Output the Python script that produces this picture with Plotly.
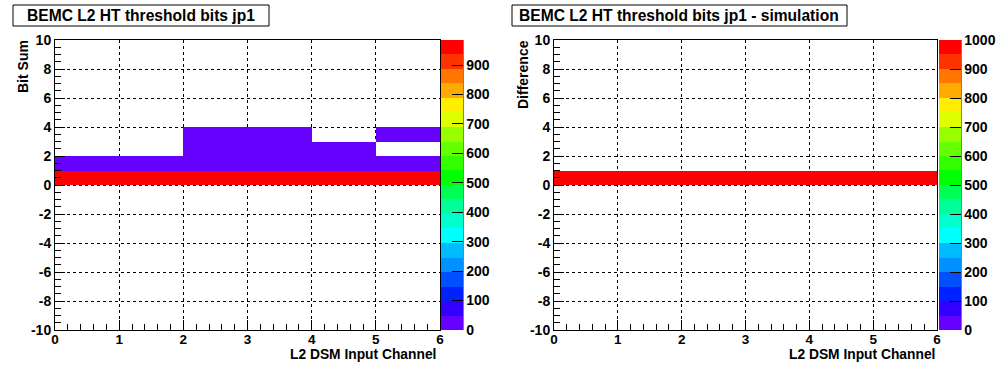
import plotly.graph_objects as go

W, H = 996, 372

# ---------------- data ----------------
x_centers = [0.5, 1.5, 2.5, 3.5, 4.5, 5.5]          # L2 DSM input channel bins
y_centers = [-9.5 + i for i in range(20)]           # bit-sum / difference bins

# left histogram: counts per (y bin, channel); 0 = empty
bitsum_0to1 = [985, 985, 985, 985, 985, 985]
bitsum_1to2 = [8, 8, 8, 8, 8, 8]
bitsum_2to3 = [0, 0, 8, 8, 8, 0]
bitsum_3to4 = [0, 0, 8, 8, 0, 8]
left_zmax = 985

# right histogram
diff_0to1 = [1000, 1000, 1000, 1000, 1000, 1000]
right_zmax = 1000

left_cbar_ticks = [0, 100, 200, 300, 400, 500, 600, 700, 800, 900]
right_cbar_ticks = [0, 100, 200, 300, 400, 500, 600, 700, 800, 900, 1000]
x_ticks = [0, 1, 2, 3, 4, 5, 6]
y_ticks = [-10, -8, -6, -4, -2, 0, 2, 4, 6, 8, 10]
y_tick_labels = ["-10", "-8", "-6", "-4", "-2", "0", "2", "4", "6", "8", "10"]

palette = ["#6600ff", "#3300ff", "#0022ff", "#0050ff", "#0090ff", "#00bbff",
           "#00ffff", "#00ffcc", "#00ff99", "#00ff55", "#00ff00", "#33ff00",
           "#66ff00", "#99ff00", "#ddff00", "#ffee00", "#ffaa00", "#ff7700",
           "#ff3300", "#ff0000"]


def px(x):
    return x / W


def py(y):
    return 1 - y / H


def build_z(rows):
    z = [[None] * 6 for _ in range(20)]
    for yc, vals in rows.items():
        i = y_centers.index(yc)
        z[i] = [v if v > 0 else None for v in vals]
    return z


def discrete_scale(colors):
    n = len(colors)
    cs = []
    for i, c in enumerate(colors):
        cs.append([i / n, c])
        cs.append([(i + 1) / n, c])
    return cs


z_left = build_z({0.5: bitsum_0to1, 1.5: bitsum_1to2, 2.5: bitsum_2to3, 3.5: bitsum_3to4})
z_right = build_z({0.5: diff_0to1})

FONT = "Liberation Sans, Arial, Helvetica, sans-serif"
tickfont = dict(family=FONT, size=14, color="black", weight="bold")
xtickfont = dict(family=FONT, size=13.5, color="black", weight="bold")

fig = go.Figure()

# plot geometry (pixels)
L = dict(x0=55, x1=440, cb0=441)
R = dict(x0=554, x1=937, cb0=939)
TOP, BOT = 40, 330
CBW = 22

for (z, zmax, ticks, geo, xa, ya) in [
    (z_left, left_zmax, left_cbar_ticks, L, "x", "y"),
    (z_right, right_zmax, right_cbar_ticks, R, "x2", "y2"),
]:
    fig.add_trace(go.Heatmap(
        x=x_centers, y=y_centers, z=z, xaxis=xa, yaxis=ya,
        zmin=0, zmax=zmax, colorscale=discrete_scale(palette),
        hoverongaps=False, xgap=0, ygap=0,
        colorbar=dict(
            x=px(geo["cb0"]), xanchor="left", xpad=0, ypad=0,
            y=py(BOT), yanchor="bottom", len=BOT - TOP, lenmode="pixels",
            thickness=CBW, thicknessmode="pixels", outlinewidth=0,
            tickmode="array", tickvals=ticks, ticktext=[str(t) for t in ticks],
            ticks="inside", ticklen=11, tickcolor="black", tickwidth=1,
            tickfont=tickfont,
        ),
    ))

axis_common = dict(showline=True, linecolor="black", linewidth=1, mirror=True,
                   ticks="inside", tickcolor="black", tickwidth=1, ticklen=10,
                   showgrid=True, gridcolor="black", gridwidth=1, griddash="dot",
                   zeroline=False, fixedrange=True)
xminor = dict(dtick=0.2, ticks="inside", ticklen=6, tickcolor="black", showgrid=False)
yminor = dict(dtick=0.5, ticks="inside", ticklen=6, tickcolor="black", showgrid=False)

fig.update_layout(
    width=W, height=H, margin=dict(l=0, r=0, t=0, b=0, autoexpand=False),
    paper_bgcolor="white", plot_bgcolor="white", showlegend=False,
    xaxis=dict(domain=[px(L["x0"]), px(L["x1"])], range=[0, 6], anchor="y",
               tickvals=x_ticks, ticklabelstandoff=-3, tickfont=xtickfont,
               minor=xminor, **axis_common),
    yaxis=dict(domain=[py(BOT), py(TOP)], range=[-10, 10], anchor="x",
               tickvals=y_ticks, ticktext=y_tick_labels, tickfont=tickfont,
               minor=yminor, **axis_common),
    xaxis2=dict(domain=[px(R["x0"]), px(R["x1"])], range=[0, 6], anchor="y2",
                tickvals=x_ticks, ticklabelstandoff=-3, tickfont=xtickfont,
                minor=xminor, **axis_common),
    yaxis2=dict(domain=[py(BOT), py(TOP)], range=[-10, 10], anchor="x2",
                tickvals=y_ticks, ticktext=y_tick_labels, tickfont=tickfont,
                minor=yminor, **axis_common),
)

shapes = []
# colorbar right-side axis lines
for geo in (L, R):
    xr = geo["cb0"] + CBW
    shapes.append(dict(type="line", xref="paper", yref="paper",
                       x0=px(xr), x1=px(xr), y0=py(BOT), y1=py(TOP),
                       line=dict(color="black", width=1)))
# title boxes
for (bx0, bx1) in [(13, 269), (512, 847)]:
    shapes.append(dict(type="rect", xref="paper", yref="paper",
                       x0=px(bx0), x1=px(bx1), y0=py(26), y1=py(5),
                       line=dict(color="black", width=1), fillcolor="white"))
fig.update_layout(shapes=shapes)

titlefont = dict(family=FONT, size=15.6, color="black", weight="bold")
labfont = dict(family=FONT, size=14, color="black", weight="bold")
xlabfont = dict(family=FONT, size=13.8, color="black", weight="bold")
annotations = [
    dict(text="BEMC L2 HT threshold bits jp1", x=px(141), y=py(15.5),
         xanchor="center", yanchor="middle", font=titlefont),
    dict(text="BEMC L2 HT threshold bits jp1 - simulation", x=px(679), y=py(15.5),
         xanchor="center", yanchor="middle", font=titlefont),
    dict(text="Bit Sum", textangle=-90, x=px(32.5), y=py(38),
         xanchor="right", yanchor="top", font=labfont),
    dict(text="Difference", textangle=-90, x=px(532.5), y=py(38),
         xanchor="right", yanchor="top", font=labfont),
    dict(text="L2 DSM Input Channel", x=px(438), y=py(354.5),
         xanchor="right", yanchor="middle", font=xlabfont),
    dict(text="L2 DSM Input Channel", x=px(937), y=py(354.5),
         xanchor="right", yanchor="middle", font=xlabfont),
]
for a in annotations:
    a.update(xref="paper", yref="paper", showarrow=False)
fig.update_layout(annotations=annotations)

fig.write_html("out.html", config={"displayModeBar": False})

# remove the browser's default page margin so the figure sits at (0, 0)
with open("out.html", encoding="utf-8") as f:
    html = f.read()
html = html.replace("<head>", "<head><style>html,body{margin:0;padding:0;overflow:hidden;}</style>", 1)
with open("out.html", "w", encoding="utf-8") as f:
    f.write(html)
